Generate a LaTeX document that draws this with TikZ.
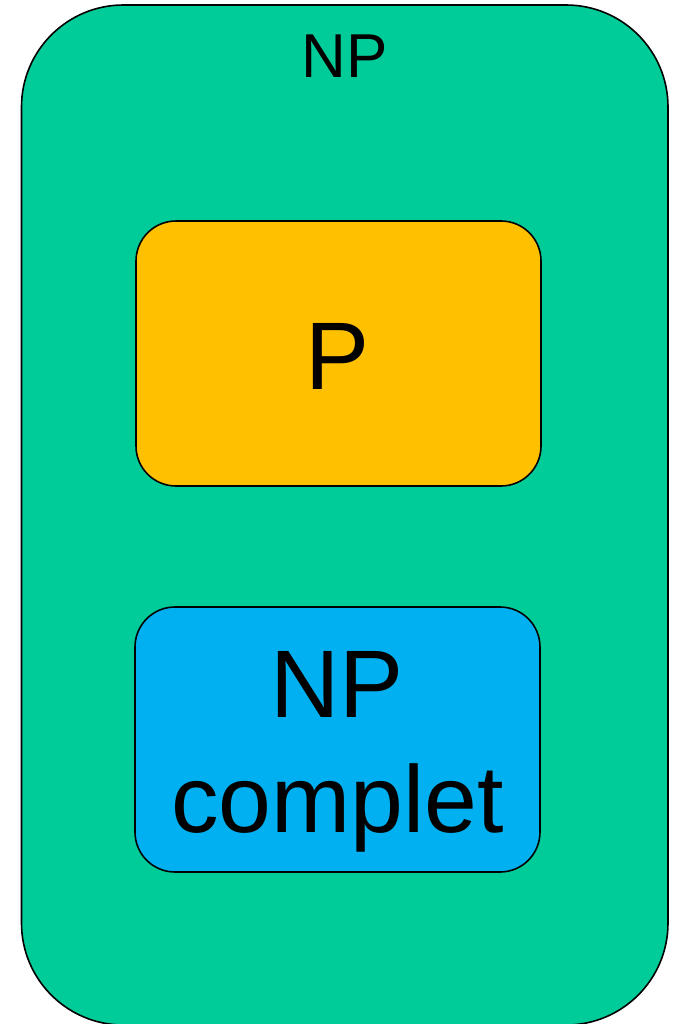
\documentclass[tikz,border=0pt]{standalone}
\usepackage{fontspec}
\setmainfont{Liberation Sans}
\definecolor{npgreen}{HTML}{00CC99}
\definecolor{porange}{HTML}{FFC000}
\definecolor{npcblue}{HTML}{00B0F0}
\begin{document}
\begin{tikzpicture}[x=1pt,y=-1pt,
  setbox/.style={draw=black,line width=1.6pt},
  lbl/.style={anchor=base,inner sep=0pt,text=black}]
\useasboundingbox (0,0) rectangle (672,1024);
\begin{scope}
\clip (0,0) rectangle (672,1024);
\draw[setbox,fill=npgreen,rounded corners=102pt] (21.5,5) rectangle (668,1025);
\end{scope}
\draw[setbox,fill=porange,rounded corners=40pt] (136,221) rectangle (541,486);
\draw[setbox,fill=npcblue,rounded corners=40pt] (135,607) rectangle (540,872);
\node[lbl,font=\fontsize{62}{62}\selectfont] (np) at (345,78) {NP};
\node[lbl,font=\fontsize{96}{96}\selectfont] (p) at (338,389) {P};
\node[lbl,font=\fontsize{96}{96}\selectfont] (npc1) at (337,717) {NP};
\node[lbl,font=\fontsize{95}{95}\selectfont] (npc2) at (337.5,832) {complet};
\end{tikzpicture}
\end{document}
